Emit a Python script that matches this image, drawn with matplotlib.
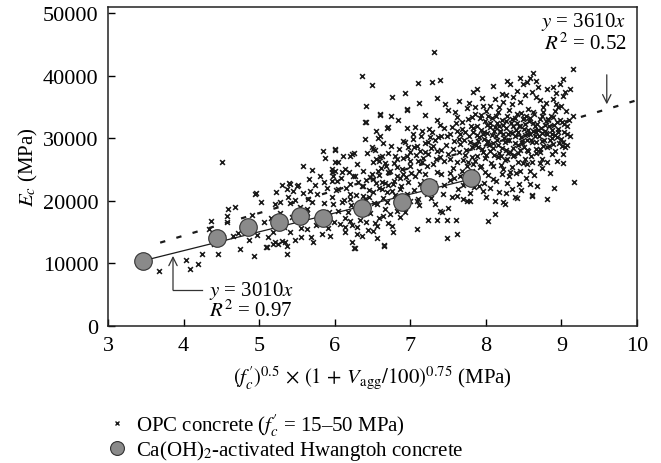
import matplotlib
matplotlib.use('Agg')
import matplotlib.pyplot as plt
from matplotlib.lines import Line2D

plt.rcParams['font.family'] = ['Liberation Serif', 'DejaVu Serif']
plt.rcParams['mathtext.fontset'] = 'stix'

# OPC concrete points (x, E_c)
opc_points = [
    (3.67, 8780), (4.03, 10600), (4.08, 9100), (4.19, 9900), (4.24, 11500),
    (4.45, 11500), (4.33, 15500), (4.36, 16800), (4.58, 17600), (4.59, 18700),
    (4.57, 16600), (4.51, 26200), (4.65, 14400), (4.75, 12300), (4.93, 11200),
    (4.94, 21080), (4.96, 21300), (5.09, 12620), (5.18, 13100), (5.25, 13100),
    (5.84, 27950), (5.87, 26830), (6.00, 28110), (5.58, 25550), (5.70, 24910),
    (6.00, 24750), (6.04, 26190), (5.30, 22520), (5.39, 22840), (5.51, 22520),
    (5.45, 21560), (5.37, 21880), (5.67, 21560), (5.86, 23000), (5.96, 23160),
    (6.36, 39900), (6.42, 35130), (6.41, 32580), (6.20, 27150), (6.29, 25870),
    (5.96, 24600), (6.13, 25070), (6.24, 23960), (5.41, 22680), (5.50, 22360),
    (6.04, 21880), (6.20, 21080), (6.36, 22360), (5.21, 19480), (5.28, 19800),
    (5.41, 19640), (5.65, 20280), (5.76, 21080), (5.96, 20600), (6.09, 19800),
    (6.20, 20280), (5.98, 19480), (6.37, 20760), (5.63, 18690), (5.63, 18050),
    (6.17, 18210), (6.20, 16770), (6.23, 16130), (6.13, 15810), (6.13, 15010),
    (6.42, 16610), (5.18, 15010), (5.10, 12620), (5.21, 13420), (5.34, 13420),
    (5.37, 12780), (5.56, 14210), (5.63, 15490), (5.71, 13420), (5.94, 14370),
    (6.23, 13420), (6.27, 12460), (6.29, 14690), (5.37, 11500), (6.25, 12460),
    (6.65, 12940), (6.36, 14370),
    (7.31, 43760), (7.10, 38800), (7.29, 38960), (7.39, 39300), (6.49, 38500),
    (6.93, 37210), (6.76, 36570), (6.60, 33700), (6.96, 34500), (7.46, 35450),
    (7.50, 34500), (7.59, 34180), (7.62, 33380), (7.75, 34820), (6.69, 31620),
    (6.96, 31620), (7.06, 31780), (7.03, 30660), (7.39, 32100), (7.55, 31780),
    (7.29, 30980), (7.48, 30340), (7.66, 30660), (7.72, 30980), (6.57, 30020),
    (6.93, 29380), (7.09, 28750), (7.37, 30180), (7.26, 30180), (6.49, 28590),
    (6.53, 28110), (6.80, 27150), (6.99, 27790), (7.13, 27950), (7.23, 27470),
    (7.35, 27950), (7.56, 28270), (7.66, 29060), (6.60, 26990), (6.66, 26030),
    (6.82, 25390), (6.89, 25070), (6.99, 25550), (7.15, 26190), (7.22, 25550),
    (7.30, 25870), (7.39, 26990), (7.52, 26670), (7.62, 26190), (7.75, 25550),
    (6.57, 24750), (6.70, 24590), (6.90, 24270), (7.06, 23960), (7.19, 24270),
    (7.35, 24590), (7.52, 24430), (7.66, 23960), (6.51, 23480), (6.62, 23000),
    (6.77, 22680), (6.97, 23000), (7.13, 22680), (6.51, 21400), (6.69, 21400),
    (6.86, 21880), (6.96, 21080), (7.10, 20280), (7.22, 21080), (7.43, 21080),
    (7.55, 20600), (7.70, 20280), (6.56, 19480), (6.69, 19800), (6.82, 18370),
    (6.93, 18210), (7.09, 19960), (7.33, 19480), (7.42, 18210), (7.50, 18850),
    (7.75, 19960), (6.64, 17570), (6.73, 17890), (6.56, 15970), (6.76, 15970),
    (6.77, 15010), (7.09, 15490), (6.51, 15170), (7.23, 16930), (7.35, 16930),
    (7.48, 16930), (7.60, 16930), (7.39, 18370), (7.48, 14050), (7.62, 14690),
    (6.65, 12780), (6.56, 14050),
    (8.62, 40400), (8.58, 39600), (8.54, 38970), (8.28, 39130), (8.32, 38650),
    (8.41, 37530), (8.36, 36570), (8.49, 38650), (8.69, 38170), (8.81, 37850),
    (8.61, 37370), (7.83, 37370), (7.95, 36410), (8.21, 37050), (8.12, 36250),
    (8.23, 35770), (8.34, 35450), (8.45, 35770), (8.67, 36570), (8.75, 34980),
    (8.05, 35130), (7.85, 34980), (7.96, 35130), (7.81, 33380), (7.92, 33220),
    (8.03, 33540), (8.16, 34180), (8.28, 33540), (8.41, 33860), (8.56, 34660),
    (8.62, 34180), (8.74, 33540), (8.82, 33060), (8.49, 33060), (7.88, 31940),
    (8.01, 32100), (8.12, 31780), (8.23, 32100), (8.36, 31940), (8.52, 32260),
    (8.65, 31940), (8.78, 32100), (7.83, 30980), (7.96, 30660), (8.08, 30500),
    (8.19, 30980), (8.29, 30660), (8.42, 30980), (8.54, 30660), (8.67, 30980),
    (8.81, 30660), (7.89, 29540), (8.01, 29380), (8.15, 29700), (8.25, 29380),
    (8.38, 29220), (8.48, 29540), (8.61, 29380), (8.74, 29540), (7.81, 28590),
    (7.95, 28270), (8.05, 27950), (8.21, 28430), (8.32, 27790), (8.45, 28110),
    (8.56, 27950), (8.67, 28270), (8.81, 28590), (7.88, 27150), (7.99, 26830),
    (8.16, 26990), (8.28, 26670), (8.36, 27150), (8.52, 26670), (8.74, 26670),
    (8.81, 26190), (7.83, 25870), (7.92, 25390), (8.09, 25550), (8.23, 25070),
    (8.34, 25390), (8.45, 24750), (8.61, 26190), (8.58, 24750), (8.74, 25230),
    (7.99, 24590), (8.21, 24270), (8.32, 24590), (7.81, 24750), (8.28, 22840),
    (8.09, 23480), (8.12, 19960), (8.23, 19800), (8.38, 20600), (8.58, 22680),
    (8.61, 20920), (8.81, 20280), (7.96, 21560), (7.79, 19960), (8.12, 17890),
    (8.03, 16770), (8.25, 19480), (8.41, 20440), (8.61, 20760),
    (9.15, 41040), (9.02, 39450), (8.98, 38650), (8.89, 38170), (9.11, 37850),
    (9.05, 37370), (9.02, 36730), (8.89, 36250), (8.95, 34980), (8.91, 34340),
    (9.15, 33540), (8.89, 33380), (9.01, 32580), (9.08, 31940), (8.95, 31460),
    (8.87, 30660), (9.07, 30660), (9.11, 30340), (8.94, 30180), (9.02, 29380),
    (8.89, 29060), (9.01, 28750), (9.05, 28590), (9.02, 27470), (8.94, 26350),
    (9.02, 26030), (9.16, 23000),
    (6.00, 28270), (6.11, 27150), (6.23, 27470), (6.00, 26190), (5.96, 25070),
    (6.10, 24590), (6.03, 23160), (6.20, 22680), (6.27, 23960), (6.37, 22360),
    (6.47, 23800), (6.58, 26350), (6.62, 27150), (6.51, 28270), (6.40, 29860),
    (6.60, 30340), (6.40, 32580), (6.60, 33860), (6.96, 34660), (6.70, 31780),
    (7.62, 31200), (7.68, 32600), (7.71, 29800), (7.74, 28100), (7.78, 30400),
    (7.80, 32000), (7.84, 29100), (7.86, 33900), (7.88, 30600), (7.90, 28600),
    (7.93, 31400), (7.97, 29900), (7.99, 32700), (8.02, 30900), (8.04, 28900),
    (8.06, 31800), (8.08, 33200), (8.10, 29300), (8.13, 30300), (8.15, 32500),
    (8.17, 27600), (8.19, 31200), (8.22, 33000), (8.24, 30000), (8.26, 28100),
    (8.27, 31700), (8.30, 34500), (8.31, 29700), (8.33, 32400), (8.35, 30800),
    (8.37, 27400), (8.39, 33300), (8.40, 31300), (8.43, 29000), (8.44, 32000),
    (8.46, 30200), (8.47, 34100), (8.50, 28600), (8.51, 31500), (8.53, 33600),
    (8.55, 29800), (8.57, 32800), (8.59, 30700), (8.60, 27200), (8.63, 31100),
    (8.64, 33900), (8.66, 29400), (8.68, 32300), (8.70, 30400), (8.72, 28300),
    (8.73, 31600), (8.76, 34200), (8.77, 29700), (8.79, 32700), (8.80, 30900),
    (8.83, 28800), (8.84, 31900), (8.86, 33500), (8.88, 30100), (8.90, 32200),
    (8.92, 28000), (8.93, 35500), (8.96, 31000), (8.98, 33000), (9.00, 29900),
    (9.04, 32300), (9.06, 34400), (9.08, 28900), (8.87, 27500), (8.71, 26000),
    (8.55, 25900), (8.42, 26200), (8.25, 26600), (8.11, 27300), (7.96, 27800),
    (7.82, 27000), (7.70, 26500), (7.65, 27800), (7.58, 29500), (7.53, 30700),
    (7.47, 29000), (7.44, 31700), (7.40, 28100), (7.36, 32900), (7.33, 29700),
    (7.28, 28500), (7.25, 31500), (7.20, 29300), (7.17, 26900), (7.14, 30300),
    (7.11, 24800), (7.07, 27300), (7.04, 29900), (7.00, 26300), (6.97, 28600),
    (6.94, 23800), (6.91, 26800), (6.88, 22400), (6.85, 28300), (6.82, 24000),
    (6.79, 26000), (6.76, 21600), (6.73, 24800), (6.70, 27700), (6.67, 22900),
    (6.64, 20400), (6.61, 25300), (6.58, 22000), (6.55, 26700), (6.52, 19700),
    (6.49, 24300), (6.46, 21700), (6.43, 27600), (6.40, 20300), (6.38, 24800),
    (6.34, 18900), (6.31, 23000), (6.28, 21000), (6.26, 27700), (6.22, 19300),
    (6.19, 24600), (6.15, 22100), (6.12, 20100), (6.08, 23600), (6.05, 18400),
    (6.02, 21700), (5.98, 23900), (5.93, 18200), (5.90, 22000), (5.86, 19700),
    (5.81, 24000), (5.78, 17600), (5.74, 22500), (5.70, 19900), (5.66, 23500),
    (5.61, 17200), (5.58, 21300), (5.54, 19000), (5.48, 20200), (5.43, 17400),
    (5.38, 20600), (5.33, 15900), (5.27, 18000), (5.22, 21500), (5.16, 17300),
    (5.12, 14200), (5.06, 16700), (5.03, 19900), (4.97, 14600), (4.91, 17800),
    (4.87, 13700), (4.80, 16300), (4.72, 14900), (4.68, 19000), (4.52, 14200),
    (4.40, 13100),
    (7.45, 22600), (7.52, 23300), (7.57, 25300), (7.63, 21900), (7.68, 24700),
    (7.73, 23100), (7.77, 26200), (7.84, 22200), (7.87, 23900), (7.93, 25600),
    (7.98, 22800), (8.03, 24200), (8.07, 26000), (8.14, 23200), (8.18, 21500),
    (8.20, 25800), (8.30, 23900), (8.35, 21900), (8.40, 24400), (8.44, 22700),
    (8.49, 26100), (8.53, 23700), (8.64, 24100), (8.68, 22400), (8.72, 27800),
    (8.85, 24500), (8.90, 22100), (7.40, 24300), (7.32, 22900), (7.27, 20500),
    (7.18, 23200), (7.12, 19300), (7.05, 21800), (6.99, 20000), (6.93, 19300),
    (6.86, 17400), (6.80, 20900), (6.71, 16500), (6.66, 18700), (6.59, 17300),
    (6.53, 16400), (6.47, 18100), (6.44, 15300), (6.33, 17000), (6.29, 15800),
    (6.13, 17200), (6.07, 16300), (5.99, 16700), (5.91, 15600), (5.83, 14700),
    (5.75, 16200), (5.68, 14300), (5.55, 15700), (5.47, 13800), (5.41, 15100),
    (5.30, 13600),
    (7.65, 36000), (7.78, 35600), (7.88, 37900), (8.00, 34300), (8.10, 38300),
    (8.18, 35000), (8.26, 36900), (8.45, 39600), (8.52, 37000), (8.66, 39100),
    (8.72, 36200), (8.80, 35600), (8.93, 37300), (9.00, 35200), (7.20, 33800),
    (7.12, 35700), (7.35, 36500), (6.84, 32900), (6.75, 33600), (6.64, 29300),
    (6.55, 31100),
    (7.60, 32400), (7.64, 29900), (7.69, 31500), (7.72, 27300), (7.76, 33100),
    (7.79, 29400), (7.83, 31700), (7.85, 26300), (7.87, 28900), (7.91, 30200),
    (7.94, 33700), (7.98, 31000), (8.00, 27400), (8.03, 29600), (8.05, 32500),
    (8.09, 28400), (8.11, 31200), (8.14, 33500), (8.16, 29000), (8.18, 32000),
    (8.20, 27100), (8.23, 30700), (8.26, 32800), (8.28, 29800), (8.29, 27700),
    (8.32, 31000), (8.34, 33100), (8.36, 28400), (8.38, 30300), (8.41, 32500),
    (8.43, 27700), (8.45, 31900), (8.48, 29200), (8.50, 33300), (8.52, 30500),
    (8.54, 28200), (8.56, 31300), (8.58, 33200), (8.60, 29700), (8.62, 32400),
    (8.65, 30300), (8.67, 27600), (8.69, 31300), (8.71, 33100), (8.74, 30800),
    (8.76, 28700), (8.78, 31100), (8.82, 32900), (8.85, 29800), (8.87, 31400),
    (8.91, 30600), (8.94, 32600), (8.97, 29200), (9.03, 31000), (9.10, 32900),
    (7.50, 27500), (7.45, 26300), (7.41, 30300), (7.34, 26700), (7.30, 28700),
    (7.24, 29400), (7.19, 27800), (7.16, 31100), (7.10, 26300), (7.05, 28600),
    (7.01, 24400), (6.95, 27200), (6.90, 29500), (6.87, 23600), (6.83, 26700),
    (6.78, 23100), (6.74, 28700), (6.71, 22500), (6.68, 25500), (6.63, 21900),
    (6.59, 24100), (6.54, 22800), (6.50, 26200), (6.45, 20600), (6.41, 23300),
    (7.58, 23700), (7.62, 20800), (7.70, 22600), (7.79, 21200), (7.91, 22300),
    (8.00, 20700), (8.06, 22100), (8.26, 21200), (8.47, 21700),
]
opc_x = [p[0] for p in opc_points]
opc_y = [p[1] for p in opc_points]

# Ca(OH)2-activated Hwangtoh concrete
hw_x = [3.46, 4.44, 4.85, 5.26, 5.54, 5.84, 6.36, 6.89, 7.25, 7.80]
hw_y = [10380, 14060, 15800, 16600, 17570, 17250, 18850, 19800, 22200, 23600]

# regression slopes
slope_hw = 3010
slope_opc = 3610
fit_hw_x = [3.46, 7.80]
fit_opc_x = [3.69, 10.0]

fig = plt.figure(figsize=(6.61, 4.64), dpi=100)
ax = fig.add_axes([0.1634, 0.2953, 0.8003, 0.6875])

ax.scatter(opc_x, opc_y, marker='x', s=12, linewidths=1.15, color='#1a1a1a', zorder=2)
ax.plot(fit_opc_x, [slope_opc * x for x in fit_opc_x], color='#1a1a1a', lw=1.6,
        linestyle=(0, (2.4, 5.2)), zorder=3)
ax.plot(fit_hw_x, [slope_hw * x for x in fit_hw_x], color='#1a1a1a', lw=0.9, zorder=3)
ax.scatter(hw_x, hw_y, s=160, color='#8a8a8a', edgecolors='#333333', linewidths=0.8, zorder=4)

# upper annotation
ax.text(9.86, 48800, r'$y$ = 3610$x$', ha='right', va='center', fontsize=15)
ax.text(9.86, 45300, r'$R^2$ = 0.52', ha='right', va='center', fontsize=15)
ax.annotate('', xy=(9.6, 35000), xytext=(9.6, 40600),
            arrowprops=dict(arrowstyle='->,head_length=0.6,head_width=0.3', lw=0.9, color='#333333'))

# lower annotation
ax.plot([3.86, 4.24], [5750, 5750], color='#333333', lw=0.9)
ax.annotate('', xy=(3.86, 11200), xytext=(3.86, 5750),
            arrowprops=dict(arrowstyle='->,head_length=0.6,head_width=0.3', lw=0.9,
                            color='#333333', shrinkA=0, shrinkB=0))
ax.text(4.33, 5800, r'$y$ = 3010$x$', ha='left', va='center', fontsize=15)
ax.text(4.33, 2500, r'$R^2$ = 0.97', ha='left', va='center', fontsize=15)

ax.set_xlim(3, 10)
ax.set_ylim(0, 51000)
ax.set_xticks(range(3, 11))
ax.set_yticks([0, 10000, 20000, 30000, 40000, 50000])
ax.tick_params(direction='in', length=5, width=1, labelsize=16, pad=7)
for s in ax.spines.values():
    s.set_linewidth(1.1)
    s.set_color('#222222')

ax.set_xlabel(r'$(f^{\prime}_c)^{0.5}\,\times\,(1\,+\,V_{\mathrm{agg}}/100)^{0.75}$ (MPa)',
              fontsize=15, labelpad=6)
ax.set_ylabel(r'$E_c$ (MPa)', fontsize=15, labelpad=2)

handles = [
    Line2D([], [], marker='x', ls='none', ms=3.2, mew=1.0, color='#1a1a1a'),
    Line2D([], [], marker='o', ls='none', ms=10, mfc='#8a8a8a', mec='#333333', mew=0.8),
]
labels = [r"OPC concrete ($f^{\prime}_c$ = 15–50 MPa)", r"Ca(OH)$_2$-activated Hwangtoh concrete"]
fig.legend(handles, labels, loc='upper left', bbox_to_anchor=(0.163, 0.112), frameon=False,
           fontsize=15, handletextpad=0.45, labelspacing=0.0, handlelength=0.9,
           borderpad=0, borderaxespad=0)

fig.savefig('out.png', dpi=100)
